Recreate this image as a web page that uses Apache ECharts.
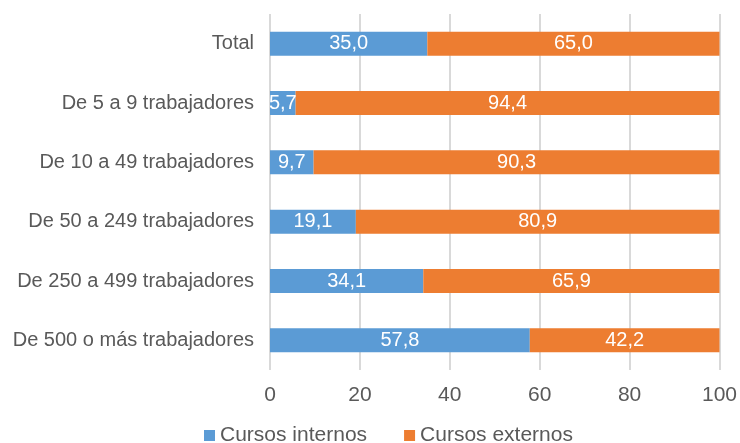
<!DOCTYPE html>
<html>
<head>
<meta charset="utf-8">
<script src="https://cdn.jsdelivr.net/npm/echarts@6/dist/echarts.min.js"></script>
<style>
  html, body { margin: 0; padding: 0; background: #fff; }
  #chart { width: 740px; height: 443px; }
</style>
</head>
<body>
<div id="chart"></div>
<script>
const categories = [
  'Total',
  'De 5 a 9 trabajadores',
  'De 10 a 49 trabajadores',
  'De 50 a 249 trabajadores',
  'De 250 a 499 trabajadores',
  'De 500 o más trabajadores'
];
const internos = [35.0, 5.7, 9.7, 19.1, 34.1, 57.8];
const externos = [65.0, 94.4, 90.3, 80.9, 65.9, 42.2];
const xTicks = [0, 20, 40, 60, 80, 100];

const fmt = v => v.toFixed(1).replace('.', ',');
const font = 'Arial, "Liberation Sans", sans-serif';

const chart = echarts.init(document.getElementById('chart'), null, { renderer: 'canvas' });

const barLabel = {
  show: true,
  position: 'inside',
  color: '#fff',
  fontSize: 20,
  fontFamily: font,
  formatter: p => fmt(p.value)
};

chart.setOption({
  animation: false,
  grid: { left: 270, right: 20, top: 14, bottom: 73, containLabel: false },
  legend: {
    top: 425,
    left: 204,
    padding: 0,
    itemWidth: 11,
    itemHeight: 11,
    itemGap: 37,
    icon: 'rect',
    textStyle: { fontSize: 21, color: '#595959', fontFamily: font },
    data: ['Cursos internos', 'Cursos externos']
  },
  xAxis: {
    type: 'value',
    min: xTicks[0],
    max: xTicks[xTicks.length - 1],
    interval: 20,
    axisLine: { show: false },
    axisTick: { show: false },
    splitLine: { show: true, lineStyle: { color: '#d9d9d9', width: 2 } },
    axisLabel: { fontSize: 21, color: '#595959', margin: 15, fontFamily: font }
  },
  yAxis: {
    type: 'category',
    inverse: true,
    data: categories,
    axisLine: { show: false },
    axisTick: { show: false },
    axisLabel: { fontSize: 20, color: '#595959', margin: 16, fontFamily: font }
  },
  series: [
    {
      name: 'Cursos internos',
      type: 'bar',
      stack: 'total',
      barWidth: 24,
      data: internos,
      itemStyle: { color: '#5B9BD5' },
      label: barLabel
    },
    {
      name: 'Cursos externos',
      type: 'bar',
      stack: 'total',
      barWidth: 24,
      data: externos,
      itemStyle: { color: '#ED7D31' },
      label: barLabel
    }
  ]
});
</script>
</body>
</html>
